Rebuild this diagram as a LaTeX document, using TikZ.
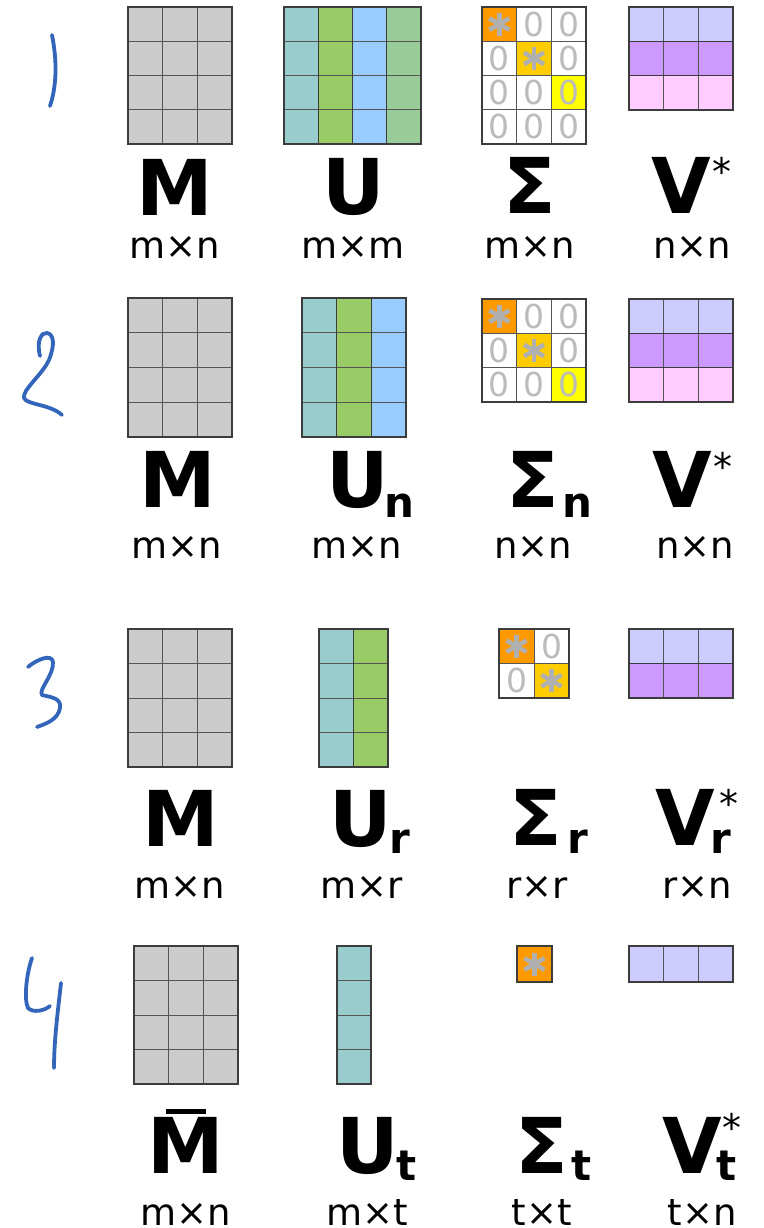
\documentclass[tikz,border=0pt]{standalone}
\usepackage{fontspec}
\setmainfont{DejaVu Sans}
\definecolor{mgray}{HTML}{CCCCCC}
\definecolor{cteal}{HTML}{99CCCC}
\definecolor{cgreen}{HTML}{99CC66}
\definecolor{cblue}{HTML}{99CCFF}
\definecolor{cgreentwo}{HTML}{99CC99}
\definecolor{corange}{HTML}{FF9900}
\definecolor{cgold}{HTML}{FFCC00}
\definecolor{cyellow}{HTML}{FFFF00}
\definecolor{clav}{HTML}{CCCCFF}
\definecolor{cpurp}{HTML}{CC99FF}
\definecolor{cpink}{HTML}{FFCCFF}
\definecolor{stargray}{HTML}{B0B0B0}
\definecolor{zerogray}{HTML}{BBBBBB}
\definecolor{innerc}{HTML}{555555}
\definecolor{outerc}{HTML}{3C3C3C}
\definecolor{handblue}{HTML}{3366BB}
\tikzset{
  cellbox/.style={draw=innerc,line width=0.9pt},
  outerbox/.style={draw=outerc,line width=1.6pt},
  sepline/.style={draw=outerc,line width=1.4pt},
  hand/.style={draw=handblue,line width=3.8pt,line cap=round,line join=round},
  lab/.style={font=\bfseries\fontsize{77}{77}\selectfont,inner sep=0pt,anchor=base},
  dims/.style={font=\fontsize{37}{37}\selectfont,inner sep=0pt,anchor=base},
  subs/.style={font=\bfseries\fontsize{42}{42}\selectfont,inner sep=0pt,anchor=base west},
  sups/.style={font=\fontsize{38}{38}\selectfont,inner sep=0pt,anchor=north west},
  zero/.style={font=\fontsize{33}{33}\selectfont,text=zerogray,inner sep=0pt}
}
% #1 x0, #2 y0, #3 cols, #4 rows, #5 w, #6 h, #7 fill
\newcommand\mcells[7]{%
  \foreach \ci in {1,...,#3}{\foreach \rj in {1,...,#4}{%
    \filldraw[cellbox,fill=#7] ({#1+(\ci-1)*#5},{#2+(\rj-1)*#6}) rectangle ++(#5,#6);}}}
\newcommand\mborder[4]{\draw[outerbox] (#1,#2) rectangle (#3,#4);}
\newcommand\sstar[2]{%
  \draw[stargray,line width=4.6pt] (#1,{#2-11.5}) -- (#1,{#2+11.5});
  \draw[stargray,line width=4.6pt] ({#1-10},{#2-5.75}) -- ({#1+10},{#2+5.75});
  \draw[stargray,line width=4.6pt] ({#1-10},{#2+5.75}) -- ({#1+10},{#2-5.75});}
\begin{document}
\begin{tikzpicture}[x=1pt,y=-1pt]
\fill[white] (0,0) rectangle (763,1228);
\useasboundingbox (0,0) rectangle (763,1228);

% ---------- handwritten row numbers ----------
\draw[hand] (52,35) .. controls (57,60) and (57,85) .. (50,106);
\draw[hand] (40,356) .. controls (36,340) and (42,332) .. (47,333) .. controls (54,334) and (55,345) .. (49,360) .. controls (42,375) and (22,390) .. (24,398) .. controls (27,405) and (50,404) .. (62,415);
\draw[hand] (28,667) .. controls (36,660) and (52,653) .. (53,662) .. controls (54,675) and (38,690) .. (42,695) .. controls (50,697) and (62,698) .. (60,708) .. controls (58,720) and (45,724) .. (37,727);
\draw[hand] (32,958) .. controls (26,975) and (24,1000) .. (28,1008) .. controls (33,1013) and (44,1011) .. (50,1006);
\draw[hand] (61,983) .. controls (58,1010) and (54,1040) .. (54,1068);

% ================= ROW 1 =================
\mcells{128}{7}{3}{4}{34.667}{34.25}{mgray}\mborder{128}{7}{232}{144}
\mcells{284}{7}{1}{4}{34.25}{34.25}{cteal}
\mcells{318.25}{7}{1}{4}{34.25}{34.25}{cgreen}
\mcells{352.5}{7}{1}{4}{34.25}{34.25}{cblue}
\mcells{386.75}{7}{1}{4}{34.25}{34.25}{cgreentwo}
\draw[sepline] (318.25,7) -- (318.25,144) (352.5,7) -- (352.5,144) (386.75,7) -- (386.75,144);
\mborder{284}{7}{421}{144}
% Sigma 4x3
\mcells{482}{7}{3}{4}{34.667}{34.25}{white}
\filldraw[cellbox,fill=corange] (482,7) rectangle ++(34.667,34.25);
\filldraw[cellbox,fill=cgold] (516.667,41.25) rectangle ++(34.667,34.25);
\filldraw[cellbox,fill=cyellow] (551.333,75.5) rectangle ++(34.667,34.25);
\mborder{482}{7}{586}{144}
\sstar{499.3}{24.1}\sstar{534}{58.4}
\foreach \cx/\cy in {534/24.1,568.7/24.1,499.3/58.4,568.7/58.4,499.3/92.6,534/92.6,568.7/92.6,499.3/126.9,534/126.9,568.7/126.9}
  \node[zero] at (\cx,\cy) {0};
% V*
\mcells{629}{7}{3}{1}{34.667}{34.333}{clav}
\mcells{629}{41.333}{3}{1}{34.667}{34.333}{cpurp}
\mcells{629}{75.667}{3}{1}{34.667}{34.333}{cpink}
\draw[sepline] (629,41.333) -- (733,41.333) (629,75.667) -- (733,75.667);
\mborder{629}{7}{733}{110}
% labels
\node[lab] (l1M) at (175,215) {M};
\node[lab] (l1U) at (354,214) {U};
\node[lab] (l1S) at (530,213) {Σ};
\node[lab] (l1V) at (681,213) {V};
\node[sups] (l1Vs) at (712,157) {*};
\node[dims] (d1M) at (175,258) {m×n};
\node[dims] (d1U) at (353,258) {m×m};
\node[dims] (d1S) at (530,258) {m×n};
\node[dims] (d1V) at (692,258) {n×n};

% ================= ROW 2 =================
\mcells{128}{298}{3}{4}{34.667}{34.75}{mgray}\mborder{128}{298}{232}{437}
\mcells{302}{298}{1}{4}{34.667}{34.75}{cteal}
\mcells{336.667}{298}{1}{4}{34.667}{34.75}{cgreen}
\mcells{371.333}{298}{1}{4}{34.667}{34.75}{cblue}
\draw[sepline] (336.667,298) -- (336.667,437) (371.333,298) -- (371.333,437);
\mborder{302}{298}{406}{437}
% Sigma 3x3
\mcells{482}{299}{3}{3}{34.667}{34.333}{white}
\filldraw[cellbox,fill=corange] (482,299) rectangle ++(34.667,34.333);
\filldraw[cellbox,fill=cgold] (516.667,333.333) rectangle ++(34.667,34.333);
\filldraw[cellbox,fill=cyellow] (551.333,367.667) rectangle ++(34.667,34.333);
\mborder{482}{299}{586}{402}
\sstar{499.3}{316.2}\sstar{534}{350.5}
\foreach \cx/\cy in {534/316.2,568.7/316.2,499.3/350.5,568.7/350.5,499.3/384.8,534/384.8,568.7/384.8}
  \node[zero] at (\cx,\cy) {0};
% V*
\mcells{629}{299}{3}{1}{34.667}{34.333}{clav}
\mcells{629}{333.333}{3}{1}{34.667}{34.333}{cpurp}
\mcells{629}{367.667}{3}{1}{34.667}{34.333}{cpink}
\draw[sepline] (629,333.333) -- (733,333.333) (629,367.667) -- (733,367.667);
\mborder{629}{299}{733}{402}
% labels
\node[lab] (l2M) at (177.5,507) {M};
\node[lab] (l2U) at (357.5,507) {U};
\node[subs] (l2Un) at (384.5,517) {n};
\node[lab] (l2S) at (533,507) {Σ};
\node[subs] (l2Sn) at (562.5,517) {n};
\node[lab] (l2V) at (682,507) {V};
\node[sups] (l2Vs) at (713,452) {*};
\node[dims] (d2M) at (177,558) {m×n};
\node[dims] (d2U) at (357,558) {m×n};
\node[dims] (d2S) at (533,558) {n×n};
\node[dims] (d2V) at (695,558) {n×n};

% ================= ROW 3 =================
\mcells{128}{629}{3}{4}{34.667}{34.5}{mgray}\mborder{128}{629}{232}{767}
\mcells{319}{629}{1}{4}{34.5}{34.5}{cteal}
\mcells{353.5}{629}{1}{4}{34.5}{34.5}{cgreen}
\draw[sepline] (353.5,629) -- (353.5,767);
\mborder{319}{629}{388}{767}
% Sigma 2x2
\filldraw[cellbox,fill=corange] (499,629) rectangle ++(35,34.5);
\filldraw[cellbox,fill=white] (534,629) rectangle ++(35,34.5);
\filldraw[cellbox,fill=white] (499,663.5) rectangle ++(35,34.5);
\filldraw[cellbox,fill=cgold] (534,663.5) rectangle ++(35,34.5);
\mborder{499}{629}{569}{698}
\sstar{516.5}{646.2}\sstar{551.5}{680.7}
\node[zero] at (551.5,646.2) {0};
\node[zero] at (516.5,680.7) {0};
% V*
\mcells{629}{629}{3}{1}{34.667}{34.5}{clav}
\mcells{629}{663.5}{3}{1}{34.667}{34.5}{cpurp}
\draw[sepline] (629,663.5) -- (733,663.5);
\mborder{629}{629}{733}{698}
% labels
\node[lab] (l3M) at (181,846) {M};
\node[lab] (l3U) at (361,846) {U};
\node[subs] (l3Ur) at (389.5,853) {r};
\node[lab] (l3S) at (536,845) {Σ};
\node[subs] (l3Sr) at (567.5,853) {r};
\node[lab] (l3V) at (685,845) {V};
\node[subs] (l3Vr) at (710.5,853) {r};
\node[sups] (l3Vs) at (719,789) {*};
\node[dims] (d3M) at (180,898) {m×n};
\node[dims] (d3U) at (362,898) {m×r};
\node[dims] (d3S) at (537,898) {r×r};
\node[dims] (d3V) at (697,898) {r×n};

% ================= ROW 4 =================
\mcells{134}{946}{3}{4}{34.667}{34.5}{mgray}\mborder{134}{946}{238}{1084}
\mcells{337}{946}{1}{4}{34}{34.5}{cteal}
\mborder{337}{946}{371}{1084}
% Sigma 1x1
\filldraw[cellbox,fill=corange] (517,946) rectangle (552,982);
\mborder{517}{946}{552}{982}
\sstar{534.5}{964}
% V*
\mcells{629}{946}{3}{1}{34.667}{36}{clav}
\mborder{629}{946}{733}{982}
% labels
\node[lab] (l4M) at (186,1173) {M};
\fill[black] (166,1108.5) rectangle (206,1113.5);
\node[lab] (l4U) at (368,1173) {U};
\node[subs] (l4Ut) at (396,1180) {t};
\node[lab] (l4S) at (542,1173) {Σ};
\node[subs] (l4St) at (571,1180) {t};
\node[lab] (l4V) at (692,1173) {V};
\node[subs] (l4Vt) at (716,1180) {t};
\node[sups] (l4Vs) at (722,1113) {*};
\node[dims] (d4M) at (186,1225.5) {m×n};
\node[dims] (d4U) at (367,1225.5) {m×t};
\node[dims] (d4S) at (542,1225.5) {t×t};
\node[dims] (d4V) at (702,1225.5) {t×n};
\end{tikzpicture}
\end{document}
